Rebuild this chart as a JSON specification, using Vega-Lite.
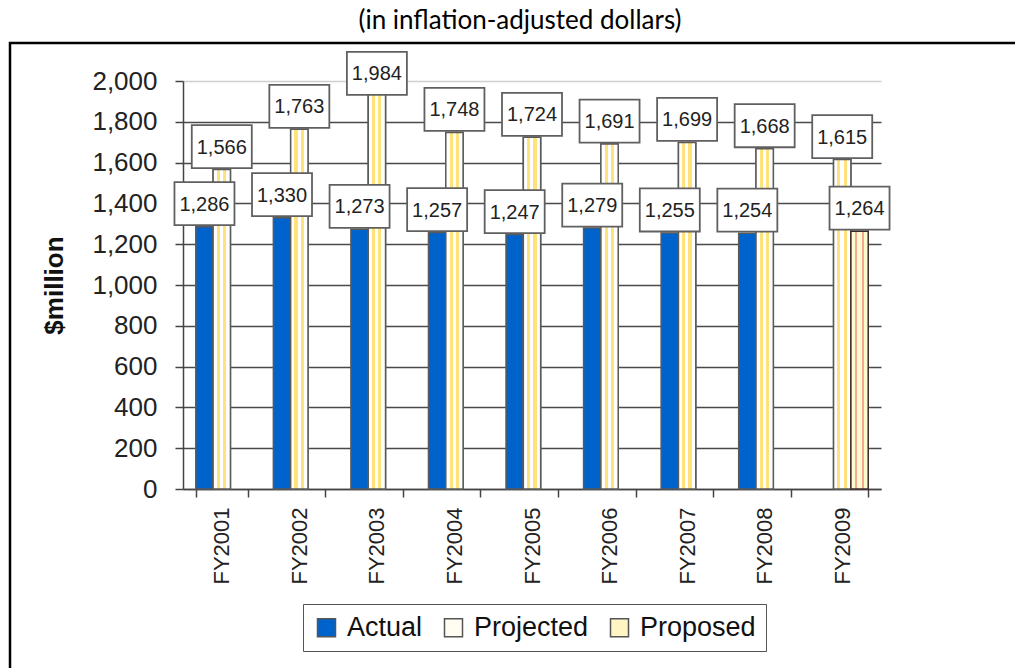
{
  "$schema": "https://vega.github.io/schema/vega-lite/v6.json",
  "autosize": {"type": "none"},
  "padding": {"left": 183, "top": 81, "right": 134, "bottom": 179},
  "width": 698,
  "height": 408,
  "background": "#ffffff",
  "config": {
    "view": {"stroke": null},
    "font": "Liberation Sans"
  },
  "title": {
    "text": "(in inflation-adjusted dollars)",
    "font": "Lato",
    "fontSize": 26,
    "fontWeight": "normal",
    "color": "#000000",
    "anchor": "middle",
    "frame": "group",
    "baseline": "alphabetic",
    "dx": -12,
    "dy": 31,
    "offset": 18
  },
  "datasets": {
    "budget": [
      {"year": "FY2001", "series": "Actual", "value": 1286},
      {"year": "FY2001", "series": "Projected", "value": 1566},
      {"year": "FY2002", "series": "Actual", "value": 1330},
      {"year": "FY2002", "series": "Projected", "value": 1763},
      {"year": "FY2003", "series": "Actual", "value": 1273},
      {"year": "FY2003", "series": "Projected", "value": 1984},
      {"year": "FY2004", "series": "Actual", "value": 1257},
      {"year": "FY2004", "series": "Projected", "value": 1748},
      {"year": "FY2005", "series": "Actual", "value": 1247},
      {"year": "FY2005", "series": "Projected", "value": 1724},
      {"year": "FY2006", "series": "Actual", "value": 1279},
      {"year": "FY2006", "series": "Projected", "value": 1691},
      {"year": "FY2007", "series": "Actual", "value": 1255},
      {"year": "FY2007", "series": "Projected", "value": 1699},
      {"year": "FY2008", "series": "Actual", "value": 1254},
      {"year": "FY2008", "series": "Projected", "value": 1668},
      {"year": "FY2009", "series": "Projected", "value": 1615},
      {"year": "FY2009", "series": "Proposed", "value": 1264}
    ]
  },
  "resolve": {"scale": {"y": "independent"}},
  "layer": [
    {
      "data": {"values": [{"frame": 1}]},
      "mark": {"type": "rect", "x": -173, "y": -38, "x2": 840, "y2": 595, "fillOpacity": 0, "stroke": "#000000", "strokeWidth": 2.5},
      "encoding": {}
    },
    {
      "data": {"name": "budget"},
      "layer": [
        {
          "mark": {"type": "bar", "stroke": "#5a5a5a", "strokeWidth": 1.5},
          "encoding": {
            "x": {
              "field": "year", "type": "nominal",
              "scale": {"paddingInner": 0.33, "paddingOuter": 0.165},
              "axis": {
                "title": null,
                "labelAngle": 270,
                "labelFontSize": 22,
                "labelColor": "#222222",
                "labelPadding": 10,
                "tickBand": "extent",
                "tickSize": 8,
                "tickColor": "#444444",
                "domainColor": "#444444",
                "domainWidth": 1.5,
                "tickWidth": 1.5
              }
            },
            "xOffset": {"field": "series", "type": "nominal", "scale": {"domain": ["Actual", "Projected", "Proposed"], "paddingInner": 0, "paddingOuter": 0}},
            "y": {
              "field": "value", "type": "quantitative",
              "scale": {"domain": [0, 2000], "nice": false},
              "axis": {
                "title": "$million",
                "titleFontSize": 26,
                "titleFontWeight": "bold",
                "titleColor": "#111111",
                "titlePadding": 24,
                "values": [0, 200, 400, 600, 800, 1000, 1200, 1400, 1600, 1800, 2000],
                "format": ",.0f",
                "labelFontSize": 26,
                "labelColor": "#222222",
                "labelPadding": 18,
                "tickSize": 8,
                "tickColor": "#444444",
                "tickWidth": 1.5,
                "domainColor": "#444444",
                "domainWidth": 1.5,
                "grid": true,
                "gridColor": {"condition": {"test": "datum.value === 2000", "value": "#cfcfcf"}, "value": "#4a4a4a"},
                "gridWidth": 1.3
              }
            },
            "color": {
              "field": "series", "type": "nominal",
              "scale": {"domain": ["Actual", "Projected", "Proposed"], "range": ["#0063CC", "#FFFDF2", "#FFF6C4"]},
              "legend": {
                "title": null,
                "orient": "none",
                "direction": "horizontal",
                "legendX": 120,
                "legendY": 523,
                "padding": 10,
                "strokeColor": "#555555",
                "fillColor": "#ffffff",
                "symbolType": "square",
                "symbolSize": 324,
                "symbolStrokeColor": "#555555",
                "symbolStrokeWidth": 1.5,
                "labelFontSize": 27,
                "labelColor": "#111111",
                "labelOffset": 7,
                "columnPadding": 17
              }
            }
          }
        },
        {
          "transform": [{"filter": "datum.series === 'Projected'"}],
          "mark": {
            "type": "bar", "stroke": "#5a5a5a", "strokeWidth": 1.5,
            "fill": {"gradient": "linear", "x1": 0, "y1": 0, "x2": 1, "y2": 0, "stops": [
              {"offset": 0, "color": "#ffffff"}, {"offset": 0.22, "color": "#ffffff"},
              {"offset": 0.22, "color": "#FFE27A"}, {"offset": 0.4, "color": "#FFE27A"},
              {"offset": 0.4, "color": "#ffffff"}, {"offset": 0.58, "color": "#ffffff"},
              {"offset": 0.58, "color": "#FFE27A"}, {"offset": 0.76, "color": "#FFE27A"},
              {"offset": 0.76, "color": "#ffffff"}, {"offset": 1, "color": "#ffffff"}
            ]}
          },
          "encoding": {
            "x": {"field": "year", "type": "nominal"},
            "xOffset": {"field": "series", "type": "nominal", "scale": {"domain": ["Actual", "Projected", "Proposed"]}},
            "y": {"field": "value", "type": "quantitative"}
          }
        },
        {
          "transform": [{"filter": "datum.series === 'Proposed'"}],
          "mark": {
            "type": "bar", "stroke": "#3a2a2a", "strokeWidth": 1.5,
            "fill": {"gradient": "linear", "x1": 0, "y1": 0, "x2": 1, "y2": 0, "stops": [
              {"offset": 0, "color": "#FFFBD0"}, {"offset": 0.24, "color": "#FFFBD0"},
              {"offset": 0.24, "color": "#F8A890"}, {"offset": 0.38, "color": "#F8A890"},
              {"offset": 0.38, "color": "#FFFBD0"}, {"offset": 0.62, "color": "#FFFBD0"},
              {"offset": 0.62, "color": "#F8A890"}, {"offset": 0.76, "color": "#F8A890"},
              {"offset": 0.76, "color": "#FFFBD0"}, {"offset": 1, "color": "#FFFBD0"}
            ]}
          },
          "encoding": {
            "x": {"field": "year", "type": "nominal"},
            "xOffset": {"field": "series", "type": "nominal", "scale": {"domain": ["Actual", "Projected", "Proposed"]}},
            "y": {"field": "value", "type": "quantitative"}
          }
        }
      ]
    },
    {
      "data": {"name": "budget"},
      "encoding": {
        "x": {"field": "year", "type": "nominal"},
        "xOffset": {"field": "series", "type": "nominal", "scale": {"domain": ["Actual", "Projected", "Proposed"]}},
        "y": {"field": "value", "type": "quantitative", "scale": {"domain": [0, 1925], "range": [408, 15.3], "clamp": true, "nice": false}, "axis": null}
      },
      "layer": [
        {
          "mark": {"type": "point", "shape": "M-1,-0.717L1,-0.717L1,0.717L-1,0.717Z", "size": 3600, "filled": true, "fill": "#ffffff", "fillOpacity": 1, "stroke": "#606060", "strokeWidth": 1.8, "opacity": 1, "yOffset": -23}
        },
        {
          "mark": {"type": "text", "fontSize": 20, "color": "#222222", "baseline": "middle", "align": "center", "yOffset": -22},
          "encoding": {"text": {"field": "value", "type": "quantitative", "format": ",.0f"}}
        }
      ]
    }
  ]
}
